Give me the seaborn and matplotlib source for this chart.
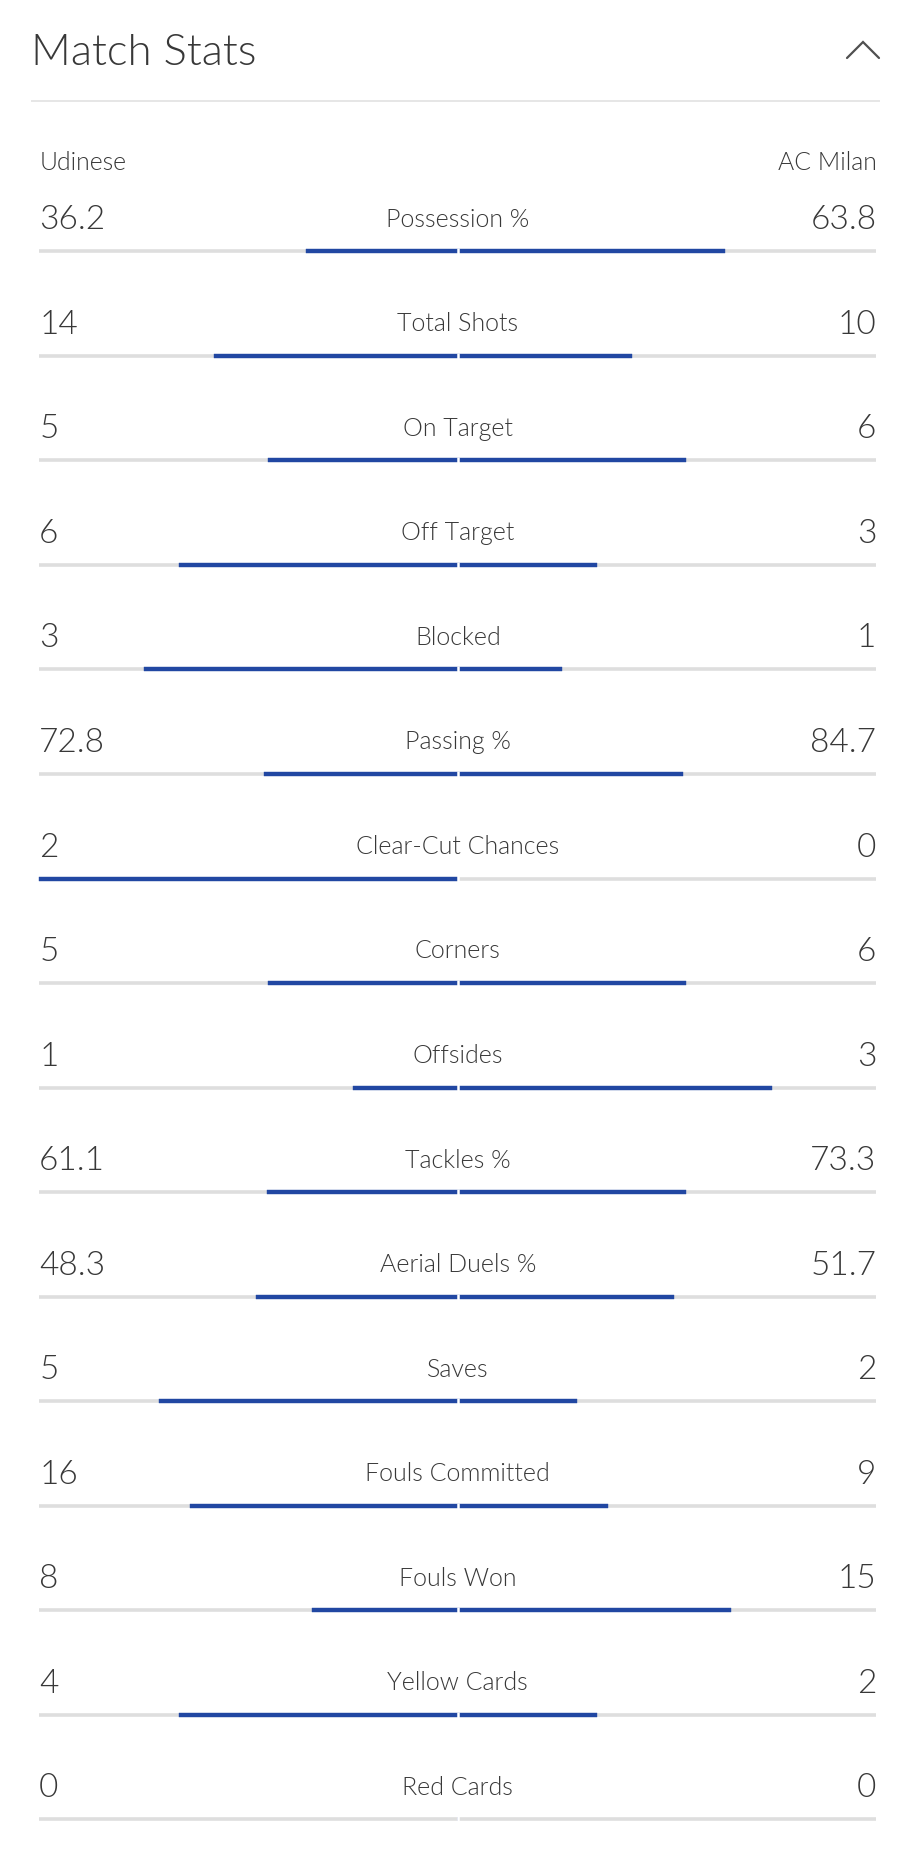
import numpy as np
import pandas as pd
import seaborn as sns
import matplotlib.pyplot as plt

home_team = 'Udinese'
away_team = 'AC Milan'

stats = [
  'Possession %', 'Total Shots', 'On Target', 'Off Target', 'Blocked',
  'Passing %', 'Clear-Cut Chances', 'Corners', 'Offsides', 'Tackles %',
  'Aerial Duels %', 'Saves', 'Fouls Committed', 'Fouls Won',
  'Yellow Cards', 'Red Cards'
]
home_values = [36.2, 14, 5, 6, 3, 72.8, 2, 5, 1, 61.1, 48.3, 5, 16, 8, 4, 0]
away_values = [63.8, 10, 6, 3, 1, 84.7, 0, 6, 3, 73.3, 51.7, 2, 9, 15, 2, 0]

BLUE = '#2147a2'
GREY = '#dedede'
TEXT = '#383838'

# pixel layout of the reference (912 x 1858)
W, H = 912, 1858
CX, HALF = 457.8, 418.6     # centre of bars, half width
Y0, STEP = 252.3, 104.54    # first bar line, row spacing

def fx(px):
  return (px - CX) / HALF

def fy(py):
  return (py - Y0) / STEP

df = pd.DataFrame({'stat': stats, 'home': home_values, 'away': away_values})
total = df['home'] + df['away']
df['home_share'] = np.where(total > 0, df['home'] / total.replace(0, 1), 0) * -1
df['away_share'] = np.where(total > 0, df['away'] / total.replace(0, 1), 0)

sns.set_theme(style='white')
plt.rcParams['font.family'] = ['Lato', 'DejaVu Sans']
WEIGHT = 300

fig = plt.figure(figsize=(W / 100, H / 100), dpi=100)
ax = fig.add_axes([0, 0, 1, 1])

rows = np.arange(len(df))

# grey tracks
ax.hlines(rows, -1, 1, color=GREY, lw=2.6, zorder=1)

bar_h = 4.0 / STEP
for col in ['home_share', 'away_share']:
  sns.barplot(data=df, x=col, y='stat', order=stats, orient='h',
              color=BLUE, width=bar_h, saturation=1, ax=ax, zorder=2,
              edgecolor=BLUE, linewidth=0.3)

# small white split in the middle of each track
ax.vlines(np.zeros(len(rows)), rows - 0.03, rows + 0.03, color='white', lw=1.8, zorder=3)

fmt = lambda v: f'{v:g}'
for i, row in df.iterrows():
  ax.text(-1, i - 0.22, fmt(row['home']), ha='left', va='baseline',
          fontsize=24, color=TEXT, fontweight=WEIGHT)
  ax.text(1, i - 0.22, fmt(row['away']), ha='right', va='baseline',
          fontsize=24, color=TEXT, fontweight=WEIGHT)
  ax.text(0, i - 0.245, row['stat'], ha='center', va='baseline',
          fontsize=18, color=TEXT, fontweight=WEIGHT, zorder=4)

# header
ax.text(-1, fy(170), home_team, ha='left', va='baseline',
        fontsize=17.8, color=TEXT, fontweight=WEIGHT)
ax.text(1, fy(170), away_team, ha='right', va='baseline',
        fontsize=17.8, color=TEXT, fontweight=WEIGHT)
ax.text(fx(31), fy(65), 'Match Stats', ha='left', va='baseline',
        fontsize=31.5, color=TEXT, fontweight=WEIGHT)
ax.plot([fx(847), fx(863), fx(879)], [fy(59), fy(43), fy(59)],
        color='#505050', lw=1.6, solid_joinstyle='miter')
ax.hlines(fy(101.7), fx(31), fx(880), color='#e4e4e4', lw=1.3)

ax.set_xlim(fx(0), fx(W))
ax.set_ylim(fy(H), fy(0))
ax.axis('off')

plt.savefig('out.png', dpi=100, facecolor='white')
